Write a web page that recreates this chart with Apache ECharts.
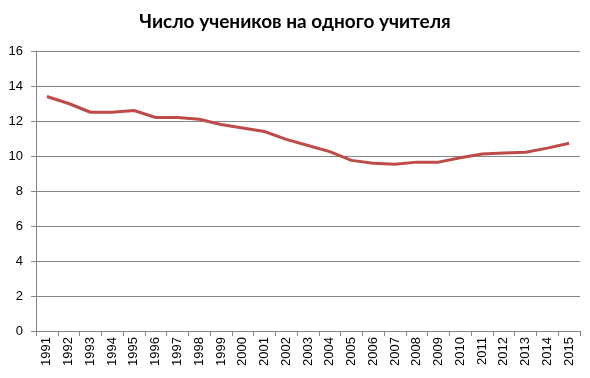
<!DOCTYPE html>
<html><head><meta charset="utf-8">
<script src="https://cdn.jsdelivr.net/npm/echarts@6/dist/echarts.min.js"></script>
<style>html,body{margin:0;padding:0;background:#fff}#c{width:590px;height:378px}</style>
</head><body><div id="c"></div>
<script>
const titleText = 'Число учеников на одного учителя';
const years = ['1991','1992','1993','1994','1995','1996','1997','1998','1999','2000','2001','2002','2003','2004','2005','2006','2007','2008','2009','2010','2011','2012','2013','2014','2015'];
const values = [13.4,13.0,12.5,12.5,12.6,12.2,12.2,12.1,11.8,11.6,11.4,10.95,10.6,10.25,9.75,9.58,9.53,9.65,9.65,9.9,10.12,10.17,10.21,10.45,10.73];
const yTicks = [0,2,4,6,8,10,12,14,16];

const chart = echarts.init(document.getElementById('c'));
chart.setOption({
  animation:false,
  title:{text:titleText,left:'center',top:7,textStyle:{fontFamily:'Lato',fontWeight:'bold',fontSize:19,color:'#000'}},
  grid:{left:36,right:10,top:51,bottom:47,containLabel:false},
  xAxis:{type:'category',data:years,boundaryGap:true,
    axisLine:{lineStyle:{color:'#868686',width:1}},
    axisTick:{show:true,alignWithLabel:false,length:5,lineStyle:{color:'#868686'}},
    axisLabel:{rotate:90,interval:0,fontFamily:'Liberation Sans',fontSize:13,color:'#000',margin:6}},
  yAxis:{type:'value',min:yTicks[0],max:yTicks[yTicks.length-1],interval:2,
    axisLine:{show:true,lineStyle:{color:'#868686'}},
    axisTick:{show:true,length:5,lineStyle:{color:'#868686'}},
    splitLine:{lineStyle:{color:'#868686',width:1}},
    axisLabel:{fontFamily:'Liberation Sans',fontSize:13,color:'#000',margin:13}},
  series:[{type:'line',data:values,symbol:'none',smooth:false,lineStyle:{color:'#BE4B48',width:3}}]
});
</script></body></html>
